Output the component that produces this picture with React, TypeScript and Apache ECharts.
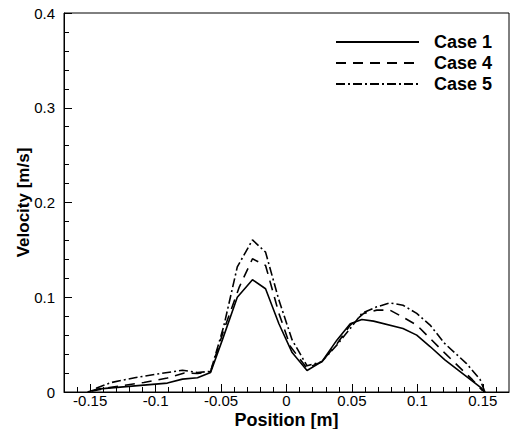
import React, { useEffect, useRef } from "react";
import * as echarts from "echarts";

const case1: [number, number][] = [
  [-0.152, 0], [-0.145, 0.003], [-0.091, 0.0094], [-0.0795, 0.0136], [-0.068, 0.015],
  [-0.058, 0.0206], [-0.049, 0.055], [-0.0376, 0.1], [-0.026, 0.1185], [-0.016, 0.109],
  [-0.0058, 0.072], [0.0043, 0.0416], [0.0157, 0.0227], [0.027, 0.032], [0.0386, 0.055],
  [0.0487, 0.072], [0.0576, 0.0766], [0.0665, 0.0748], [0.089, 0.067], [0.0995, 0.06],
  [0.1097, 0.048], [0.121, 0.034], [0.149, 0.004], [0.1516, 0],
];
const case4: [number, number][] = [
  [-0.149, 0.0007], [-0.134, 0.005], [-0.109, 0.01], [-0.091, 0.0147], [-0.078, 0.02],
  [-0.068, 0.0195], [-0.058, 0.0217], [-0.048, 0.065], [-0.036, 0.111], [-0.026, 0.1406],
  [-0.016, 0.1336], [-0.0058, 0.083], [0.003, 0.048], [0.0157, 0.025], [0.027, 0.032],
  [0.0386, 0.051], [0.0487, 0.0706], [0.059, 0.083], [0.069, 0.0864], [0.079, 0.0864],
  [0.089, 0.079], [0.0995, 0.0706], [0.1097, 0.0566], [0.121, 0.041], [0.142, 0.013],
  [0.15, 0.001],
];
const case5: [number, number][] = [
  [-0.1455, 0.004], [-0.134, 0.01], [-0.116, 0.015], [-0.0985, 0.019], [-0.0795, 0.023],
  [-0.068, 0.0206], [-0.058, 0.0217], [-0.048, 0.069], [-0.0376, 0.132], [-0.026, 0.1605],
  [-0.016, 0.1476], [-0.0058, 0.097], [0.0043, 0.055], [0.0157, 0.0276], [0.027, 0.032],
  [0.0386, 0.0497], [0.0487, 0.067], [0.0576, 0.083], [0.069, 0.0899], [0.079, 0.094],
  [0.089, 0.0916], [0.0995, 0.083], [0.1097, 0.0706], [0.121, 0.051], [0.1376, 0.03],
  [0.148, 0.013], [0.1516, 0],
];

const xMajorTicks = [-0.15, -0.1, -0.05, 0, 0.05, 0.1, 0.15];
const xMinorTicks: number[] = [
  -0.16, -0.14, -0.13, -0.12, -0.11, -0.09, -0.08, -0.07, -0.06, -0.04, -0.03, -0.02, -0.01,
  0.01, 0.02, 0.03, 0.04, 0.06, 0.07, 0.08, 0.09, 0.11, 0.12, 0.13, 0.14, 0.16,
];

const FONT = "Liberation Sans, Arial, sans-serif";

export default function App() {
  const ref = useRef<HTMLDivElement>(null);
  useEffect(() => {
    if (!ref.current) return;
    const chart = echarts.init(ref.current, null, { renderer: "svg" });
    const fmt = (v: number) => String(Number(v.toFixed(2)));
    chart.setOption({
      animation: false,
      backgroundColor: "#fff",
      grid: {
        left: 64, right: 3, top: 13, bottom: 37,
        containLabel: false,
        outerBoundsMode: "none",
        show: true, borderColor: "#000", borderWidth: 1, backgroundColor: "transparent",
      },
      legend: {
        orient: "vertical",
        left: 335,
        top: 33,
        padding: 0,
        itemWidth: 83,
        itemHeight: 18,
        itemGap: 3,
        align: "left",
        itemStyle: { opacity: 0 },
        textStyle: { fontFamily: FONT, fontSize: 18, fontWeight: "bold", color: "#000", padding: [0, 0, 0, 10] },
        data: ["Case 1", "Case 4", "Case 5"],
      },
      xAxis: [
        {
          type: "value", min: -0.17, max: 0.17,
          name: "Position [m]", nameLocation: "middle", nameGap: 19, nameMoveOverlap: false,
          nameTextStyle: { fontFamily: FONT, fontSize: 18, fontWeight: "bold", color: "#000" },
          axisLine: { show: true, onZero: false, lineStyle: { color: "#000", width: 1 } },
          axisTick: { show: true, inside: true, length: 8, customValues: xMajorTicks, lineStyle: { color: "#000", width: 1 } },
          axisLabel: { customValues: xMajorTicks, formatter: fmt, margin: 1, fontFamily: FONT, fontSize: 15, color: "#000" },
          splitLine: { show: false },
        },
        {
          type: "value", min: -0.17, max: 0.17, position: "bottom",
          axisLine: { show: false, onZero: false },
          axisTick: { show: true, inside: true, length: 5, customValues: xMinorTicks, lineStyle: { color: "#000", width: 1 } },
          axisLabel: { show: false },
          splitLine: { show: false },
        },
      ],
      yAxis: {
        type: "value", min: 0, max: 0.4, interval: 0.1,
        name: "Velocity [m/s]", nameLocation: "middle", nameGap: 32, nameMoveOverlap: false,
        nameTextStyle: { fontFamily: FONT, fontSize: 17, fontWeight: "bold", color: "#000" },
        axisLine: { show: true, onZero: false, lineStyle: { color: "#000", width: 1 } },
        axisTick: { show: true, inside: true, length: 8, lineStyle: { color: "#000", width: 1 } },
        minorTick: { show: true, splitNumber: 5, length: 5, lineStyle: { color: "#000", width: 1 } },
        axisLabel: { formatter: fmt, margin: 9, fontFamily: FONT, fontSize: 15, color: "#000" },
        splitLine: { show: false },
      },
      series: [
        { name: "Case 1", type: "line", data: case1, symbol: "none", lineStyle: { color: "#000", width: 1.6, type: "solid" }, itemStyle: { color: "#000" } },
        { name: "Case 4", type: "line", data: case4, symbol: "none", lineStyle: { color: "#000", width: 1.6, type: [10, 7] }, itemStyle: { color: "#000" } },
        { name: "Case 5", type: "line", data: case5, symbol: "none", lineStyle: { color: "#000", width: 1.6, type: [9, 3, 2, 3] }, itemStyle: { color: "#000" } },
      ],
    });
    return () => chart.dispose();
  }, []);
  return <div ref={ref} style={{ position: "fixed", left: 0, top: 0, width: 512, height: 429 }} />;
}
